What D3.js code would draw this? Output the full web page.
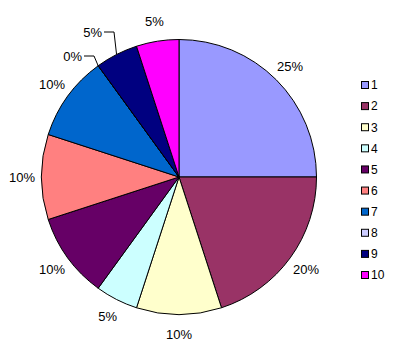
<!DOCTYPE html>
<html><head><meta charset="utf-8">
<script src="https://cdn.jsdelivr.net/npm/d3@7"></script>
<style>body{margin:0;background:#fff}svg{display:block}text{font-family:Arial,"Liberation Sans",sans-serif;fill:#000}</style>
</head><body>
<script>
const categories = ["1","2","3","4","5","6","7","8","9","10"];
const values = [25, 20, 10, 5, 10, 10, 10, 0, 5, 5];
const colors = ["#9999FF","#993366","#FFFFCC","#CCFFFF","#660066","#FF8080","#0066CC","#CCCCFF","#000080","#FF00FF"];

const W = 398, H = 355;
const cx = 179, cy = 177, R = 137.5, LR = 157;
const svg = d3.select("body").append("svg").attr("width", W).attr("height", H);
const g = svg.append("g").attr("transform", `translate(${cx},${cy})`);

const pie = d3.pie().sort(null).value(d => d)(values);
const arc = d3.arc().innerRadius(0).outerRadius(R);
const total = d3.sum(values);

g.selectAll("path").data(pie).join("path")
  .attr("d", arc).attr("fill", (d, i) => colors[i])
  .attr("stroke", "#000").attr("stroke-width", 1);

// labels with leader lines for crowded slices
const moved = {7: [-97, -121], 8: [-77, -145]};
pie.forEach((d, i) => {
  const a = (d.startAngle + d.endAngle) / 2;
  const pct = Math.round(d.value / total * 100) + "%";
  if (moved[i]) {
    const [tx, ty] = moved[i];
    const ex = R * Math.sin(a), ey = -R * Math.cos(a);
    g.append("polyline")
      .attr("points", `${tx+2},${ty} ${tx+12},${ty} ${ex},${ey}`)
      .attr("fill", "none").attr("stroke", "#000").attr("stroke-width", 1);
    g.append("text").attr("x", tx).attr("y", ty).attr("dy", "0.35em")
      .attr("font-size", 13).attr("text-anchor", "end").text(pct);
  } else {
    g.append("text").attr("x", LR * Math.sin(a)).attr("y", -LR * Math.cos(a))
      .attr("dy", "0.35em").attr("font-size", 13).attr("text-anchor", "middle").text(pct);
  }
});

// legend
const ly = d3.scalePoint().domain(categories).range([85, 275]);
const lg = svg.append("g").selectAll("g").data(categories).join("g")
  .attr("transform", d => `translate(361.5,${ly(d)})`);
lg.append("rect").attr("x", 0).attr("y", -3.5).attr("width", 7).attr("height", 7)
  .attr("fill", (d, i) => colors[i]).attr("stroke", "#000").attr("stroke-width", 1);
lg.append("text").attr("x", 9.5).attr("y", 0).attr("dy", "0.36em")
  .attr("font-size", 12).text(d => d);
</script>
</body></html>
